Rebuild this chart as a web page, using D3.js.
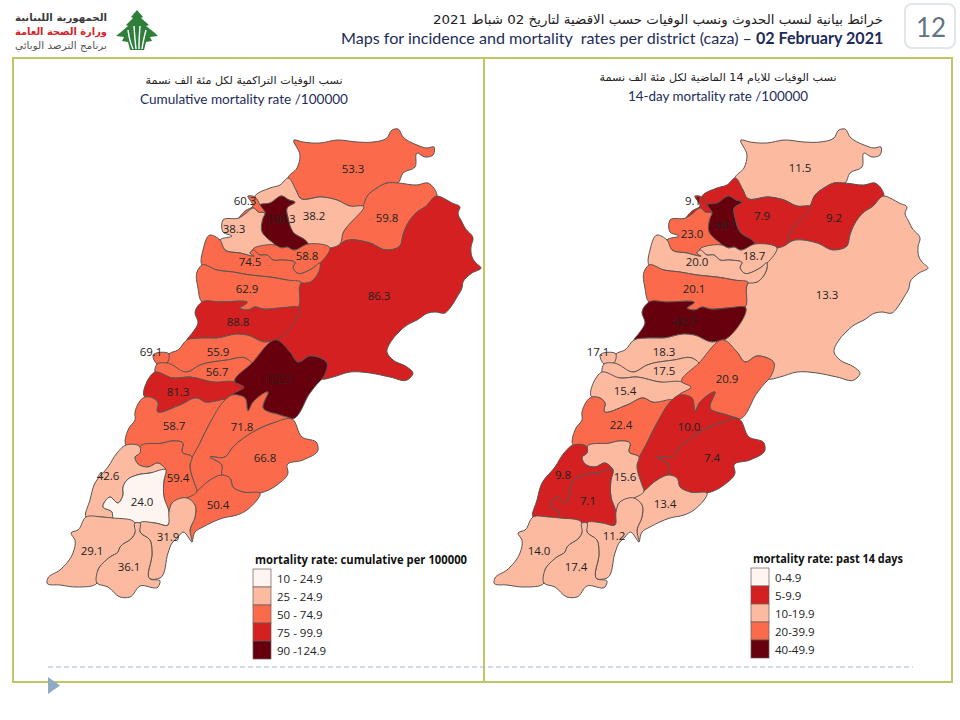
<!DOCTYPE html>
<html><head><meta charset="utf-8">
<script src="https://cdn.jsdelivr.net/npm/d3@7"></script>
<style>html,body{margin:0;padding:0;background:#fff}svg{display:block}</style>
</head><body><svg id="c" width="960" height="720"></svg>
<script>
// ---- chart values ----
const districts = ["Akkar","Hermel","Baalbek","Minieh-Dannieh","Zgharta","Tripoli","Koura","Bcharre","Batroun","Jbeil","Kesrwan","Metn","Beirut","Baabda","Aley","Chouf","Zahle","West Bekaa","Rashaya","Hasbaya","Jezzine","Saida","Nabatieh","Marjeyoun","Sour","Bent Jbeil"];
const cumulativeValues = [53.3,59.8,86.3,38.2,108.3,60.3,38.3,58.8,74.5,62.9,88.8,55.9,69.1,56.7,81.3,58.7,122.1,71.8,66.8,50.4,59.4,42.6,24.0,31.9,29.1,36.1];
const fourteenDayValues = [11.5,9.2,13.3,7.9,44.1,9.1,23.0,18.7,20.0,20.1,43.7,18.3,17.1,17.5,15.4,22.4,20.9,10.0,7.4,13.4,15.6,9.8,7.1,11.2,14.0,17.4];
const cumulativeLegend = ["10 - 24.9","25 - 24.9","50 - 74.9","75 - 99.9","90 -124.9"];
const fourteenDayLegend = ["0-4.9","5-9.9","10-19.9","20-39.9","40-49.9"];
const cumulativeBreaks = [25,50,75,100];
const fourteenDayBreaks = [5,10.05,20.05,40];

// ---- district outlines, in map units ----
const outlines = {
"Akkar":[[[288,178],[296,190],[300,198],[322,197],[337,200],[350,206],[363,206],[368,195],[377,188],[387,183],[398,183],[403,173],[415,167],[417,153],[425,157],[433,155],[434,147],[427,148],[417,145],[403,137],[398,129],[392,130],[387,138],[373,142],[357,142],[337,140],[320,143],[303,142],[294,140],[300,155],[297,168]]],
"Hermel":[[[363,206],[368,195],[377,188],[387,183],[398,183],[417,185],[428,183],[437,196],[425,207],[417,212],[407,225],[403,235],[400,246],[386,250],[370,243],[345,241],[340,244],[343,233]],[[346,248],[373,253],[388,257],[386,261],[366,257],[350,252]]],
"Baalbek":[[[437,196],[445,199],[452,203],[460,207],[458,213],[462,222],[465,228],[473,238],[471,247],[472,257],[475,262],[481,268],[472,273],[463,282],[462,288],[457,297],[450,308],[445,313],[435,312],[428,313],[417,320],[407,325],[398,333],[392,340],[387,352],[393,360],[407,367],[413,373],[407,380],[390,377],[370,373],[350,372],[333,377],[322,379],[327,363],[310,356],[298,362],[290,352],[277,340],[298,307],[300,285],[301,283],[310,282],[320,268],[320,263],[330,248],[340,244],[345,241],[370,243],[386,250],[400,246],[403,235],[407,225],[417,212],[425,207]]],
"Minieh-Dannieh":[[[288,178],[296,190],[300,198],[322,197],[337,200],[350,206],[363,206],[343,233],[340,244],[330,248],[308,244],[307,242],[293,232],[288,218],[287,208],[295,202],[289,200],[282,196],[270,203],[260,205],[255,197],[270,188],[280,185]]],
"Zgharta":[[[260,205],[270,203],[282,196],[289,200],[295,202],[287,208],[288,218],[293,232],[307,242],[308,244],[293,250],[287,247],[282,248],[275,245],[267,238],[262,232],[263,218],[265,213]]],
"Tripoli":[[[248,196],[255,197],[260,205],[265,213],[258,212],[254,208],[245,214],[239,218],[245,211],[253,206]]],
"Koura":[[[223,220],[239,218],[245,214],[254,208],[258,212],[265,213],[263,218],[262,232],[267,238],[275,245],[253,250],[250,253],[254,256],[240,253],[225,250],[220,240],[232,236],[223,232]]],
"Bcharre":[[[253,250],[275,245],[282,248],[287,247],[293,250],[308,244],[330,248],[320,263],[313,268],[297,273],[293,267],[295,263],[283,260],[273,260],[267,255],[260,255]]],
"Batroun":[[[220,240],[210,235],[203,250],[202,265],[217,270],[233,272],[250,275],[270,277],[287,280],[301,283],[310,282],[320,268],[320,263],[313,268],[297,273],[293,267],[295,263],[283,260],[273,260],[267,255],[260,255],[253,250],[250,253],[254,256],[240,253],[225,250]]],
"Jbeil":[[[202,265],[197,272],[198,288],[202,302],[220,302],[247,303],[240,308],[248,310],[255,307],[263,309],[280,308],[298,307],[300,285],[301,283],[287,280],[270,277],[250,275],[233,272],[217,270]]],
"Kesrwan":[[[202,302],[195,312],[198,323],[193,332],[187,340],[202,338],[217,338],[237,334],[247,335],[265,342],[277,340],[298,307],[280,308],[263,309],[255,307],[248,310],[240,308],[247,303],[220,302]]],
"Metn":[[[187,340],[178,350],[169,354],[167,363],[187,372],[200,365],[227,360],[245,358],[252,363],[277,340],[265,342],[247,335],[237,334],[217,338],[202,338]]],
"Beirut":[[[153,355],[169,354],[167,363],[157,364]]],
"Baabda":[[[157,364],[167,363],[187,372],[200,365],[227,360],[245,358],[252,363],[235,382],[213,382],[190,377],[173,378],[155,372]]],
"Aley":[[[155,372],[173,378],[190,377],[213,382],[235,382],[244,387],[232,395],[225,400],[205,402],[197,398],[180,405],[157,411],[158,403],[153,398],[145,397]]],
"Chouf":[[[145,397],[153,398],[158,403],[157,411],[180,405],[197,398],[205,402],[225,400],[210,423],[200,443],[190,465],[192,457],[182,452],[183,443],[172,441],[163,443],[140,447],[126,445],[129,428],[135,420],[135,412]]],
"Zahle":[[[277,340],[290,352],[298,362],[310,356],[327,363],[322,379],[318,383],[310,393],[292,419],[280,415],[263,408],[268,392],[253,402],[248,411],[245,398],[232,395],[244,387],[235,382],[252,363]]],
"West Bekaa":[[[225,400],[232,395],[245,398],[248,411],[253,402],[268,392],[263,408],[280,415],[292,419],[273,423],[253,432],[233,447],[225,457],[210,457],[222,465],[222,475],[210,480],[197,491],[195,485],[190,465],[200,443],[210,423]]],
"Rashaya":[[[292,419],[302,437],[317,443],[318,450],[303,460],[287,465],[288,473],[277,485],[260,493],[243,492],[233,487],[230,478],[222,475],[222,465],[210,457],[225,457],[233,447],[253,432],[273,423]]],
"Hasbaya":[[[197,491],[210,480],[222,475],[230,478],[233,487],[243,492],[260,493],[247,510],[237,515],[223,518],[203,527],[195,532],[192,542],[190,530],[195,517],[195,505],[187,498]]],
"Jezzine":[[[140,447],[163,443],[172,441],[183,443],[182,452],[192,457],[190,465],[195,485],[197,491],[187,498],[172,503],[169,512],[164,497],[164,480],[166,470],[158,463],[148,467],[138,464],[135,457],[140,453]],[[148,472],[160,469],[158,472],[150,474]]],
"Saida":[[[126,445],[140,447],[140,453],[135,457],[138,464],[148,467],[158,463],[166,470],[150,473],[137,475],[127,480],[123,487],[123,495],[118,503],[110,497],[103,507],[112,512],[113,518],[102,517],[86,517],[90,500],[95,483],[108,467],[117,453]]],
"Nabatieh":[[[166,470],[164,480],[164,497],[169,512],[168,525],[155,523],[135,523],[113,518],[112,512],[103,507],[110,497],[118,503],[123,495],[123,487],[127,480],[137,475],[150,473]]],
"Marjeyoun":[[[169,512],[172,503],[187,498],[195,505],[195,517],[190,530],[192,542],[183,532],[178,537],[172,543],[168,553],[160,578],[150,579],[152,553],[150,540],[140,532],[140,523],[155,523],[168,525]]],
"Sour":[[[86,517],[102,517],[113,518],[135,523],[135,533],[132,538],[120,547],[118,552],[110,557],[98,570],[97,583],[77,587],[60,585],[47,583],[48,578],[60,570],[73,553],[75,540],[71,533],[78,530]]],
"Bent Jbeil":[[[135,523],[140,523],[140,532],[150,540],[152,553],[150,579],[160,581],[158,587],[140,586],[130,597],[120,597],[108,587],[97,583],[98,570],[110,557],[118,552],[120,547],[132,538],[135,533]]]
};
const cumulativeLabelAt = [[353,169],[387,218],[379,296],[314,216],[281,219],[245,201],[234,229],[307,256],[250,262],[247,289],[238,322],[218,352],[151,352],[217,372],[178,392],[174,426],[280,379],[242,427],[265,458],[218,505],[178,478],[108,476],[142,502],[168,537],[92,551],[129,567]];
const fourteenDayLabelAt = [[353,168],[387,218],[380,295],[315,216],[279,225],[246,201],[245,234],[307,256],[250,262],[247,289],[238,322],[217,352],[151,352],[217,371],[178,391],[174,425],[280,379],[242,427],[265,458],[218,504],[178,477],[116,475],[141,501],[167,536],[92,551],[129,567]];

// ---- page texts ----
const headerAr = "خرائط بيانية لنسب الحدوث ونسب الوفيات حسب الاقضية لتاريخ 02 شباط 2021";
const headerEn = "Maps for incidence and mortality  rates per district (caza) – ";
const headerDate = "02 February 2021";
const pageNumber = "12";
const logoLines = ["الجمهورية اللبنانية","وزارة الصحة العامة","برنامج الترصد الوبائي"];
const panels = [
 {ar:"نسب الوفيات التراكمية لكل مئة الف نسمة",en:"Cumulative mortality rate /100000",vals:cumulativeValues,at:cumulativeLabelAt,
  breaks:cumulativeBreaks,range:["#fff5f0","#fcbba1","#fb6a4a","#d42020","#67000d"],legend:cumulativeLegend,lt:"mortality rate: cumulative per 100000",
  dx:0,cx:244,ay:84,ey:104,lgx:253,lgy:569,ltw:212,arw:197,enw:208},
 {ar:"نسب الوفيات للايام 14 الماضية لكل مئة الف نسمة",en:"14-day mortality rate /100000",vals:fourteenDayValues,at:fourteenDayLabelAt,
  breaks:fourteenDayBreaks,range:["#fff5f0","#d42020","#fcbba1","#fb6a4a","#67000d"],legend:fourteenDayLegend,lt:"mortality rate: past 14 days",
  dx:447,cx:718,ay:81,ey:101,lgx:751,lgy:568,ltw:150,arw:237,enw:180}
];

const svg = d3.select("#c");
const LATIN = "Lato,'Open Sans',sans-serif", MAPF="'Open Sans','Noto Sans',sans-serif", AR="'DejaVu Sans',sans-serif";
const FRAME="#bfc663", NAVY="#1c2c5b";

// frames
svg.append("rect").attr("x",13).attr("y",58).attr("width",939).attr("height",624).attr("fill","none").attr("stroke",FRAME).attr("stroke-width",2);
svg.append("line").attr("x1",484).attr("x2",484).attr("y1",58).attr("y2",682).attr("stroke",FRAME).attr("stroke-width",2);

// panels
const sy = d3.scaleLinear().domain([0,720]).range([0,720]);
panels.forEach(p=>{
  const sx = d3.scaleLinear().domain([0,960]).range([p.dx,960+p.dx]);
  const ring = d3.line().x(d=>sx(d[0])).y(d=>sy(d[1])).curve(d3.curveCatmullRomClosed.alpha(0.9));
  const color = d3.scaleThreshold().domain(p.breaks).range(p.range);
  const feats = districts.map((n,i)=>({name:n,v:p.vals[i],rings:outlines[n]}));
  const g = svg.append("g");
  g.selectAll("path").data(feats).join("path").attr("d",d=>d.rings.map(r=>ring(r)).join(""))
    .attr("fill",d=>color(d.v)).attr("stroke","#5a5452").attr("stroke-width",1).attr("stroke-linejoin","round");
  g.selectAll("text").data(feats).join("text")
    .attr("x",(d,i)=>sx(p.at[i][0])).attr("y",(d,i)=>sy(p.at[i][1])+4)
    .attr("text-anchor","middle").attr("font-family",MAPF).attr("font-size",11.5).attr("fill","#222")
    .text(d=>d.v.toFixed(1));
  // titles
  svg.append("text").attr("x",p.cx).attr("y",p.ay).attr("text-anchor","middle").attr("direction","rtl").attr("font-family",AR).attr("font-size",10.5).attr("fill","#222")
    .attr("textLength",p.arw).attr("lengthAdjust","spacingAndGlyphs").text(p.ar);
  svg.append("text").attr("x",p.cx).attr("y",p.ey).attr("text-anchor","middle").attr("font-family",LATIN).attr("font-size",14).attr("fill",NAVY)
    .attr("textLength",p.enw).attr("lengthAdjust","spacingAndGlyphs").text(p.en);
  // legend
  const lg = svg.append("g").attr("transform",`translate(${p.lgx},${p.lgy})`);
  const ly = d3.scaleBand().domain(d3.range(5)).range([0,90]);
  lg.selectAll("rect").data(p.range).join("rect").attr("x",0).attr("y",(d,i)=>ly(i)).attr("width",18).attr("height",ly.bandwidth())
    .attr("fill",d=>d).attr("stroke","#6b5b58").attr("stroke-width",.7);
  lg.selectAll("text.l").data(p.legend).join("text").attr("class","l").attr("x",24).attr("y",(d,i)=>ly(i)+13.5)
    .attr("font-family",MAPF).attr("font-size",11.5).attr("fill","#222").text(d=>d);
  lg.append("text").attr("x",2).attr("y",-5).attr("font-family",MAPF).attr("font-weight",700).attr("font-size",11.5).attr("fill","#111")
    .attr("textLength",p.ltw).attr("lengthAdjust","spacingAndGlyphs").text(p.lt);
});

// header
svg.append("text").attr("x",883).attr("y",24).attr("text-anchor","start").attr("direction","rtl").attr("font-family",AR).attr("font-size",13).attr("fill","#222")
  .attr("textLength",450).attr("lengthAdjust","spacingAndGlyphs").text(headerAr);
const h = svg.append("text").attr("x",341).attr("y",44).attr("font-family",LATIN).attr("font-size",16.1).attr("fill",NAVY).style("white-space","pre");
h.append("tspan").text(headerEn);
h.append("tspan").attr("font-weight",700).text(headerDate);

// page number
svg.append("rect").attr("x",905).attr("y",4).attr("width",50).attr("height",44).attr("rx",7).attr("fill","#fff").attr("stroke","#dfe6ec").attr("stroke-width",2);
svg.append("text").attr("x",931).attr("y",37).attr("text-anchor","middle").attr("font-family",LATIN).attr("font-size",26).attr("fill","#5f7486").text(pageNumber);

// dashed rule + arrow
svg.append("line").attr("x1",48).attr("x2",913).attr("y1",667).attr("y2",667).attr("stroke","#a3b6c6").attr("stroke-width",1).attr("stroke-dasharray","5 3");
svg.append("path").attr("d",d3.line()([[48,677],[60,685.5],[48,694]])+"Z").attr("fill","#8eabc1");

// logo
const logoColors=["#3a3a3a","#d8232a","#555"];
logoLines.forEach((t,i)=>svg.append("text").attr("x",107).attr("y",21+i*14).attr("text-anchor","start").attr("direction","rtl")
  .attr("font-family",AR).attr("font-weight",i<2?700:400).attr("font-size",10).attr("fill",logoColors[i]).attr("textLength",92).attr("lengthAdjust","spacingAndGlyphs").text(t));
const tree=[[137,10],[143,17],[141,18],[149,25],[146,26],[155,33],[158,36],[150,37],[152,41],[146,42],[144,50],[130,50],[128,42],[122,41],[124,37],[116,36],[121,32],[128,26],[126,25],[133,18],[131,17]];
svg.append("path").attr("d",d3.line()(tree)+"Z").attr("fill","#2f7f3b");
[[[128,30],[130,42],[133,49]],[[134,26],[135,40],[136,49]],[[140,26],[139,40],[139,49]],[[146,30],[143,42],[142,49]]].forEach(l=>
  svg.append("path").attr("d",d3.line().curve(d3.curveBasis)(l)).attr("fill","none").attr("stroke","#fff").attr("stroke-width",1.4));
</script></body></html>
